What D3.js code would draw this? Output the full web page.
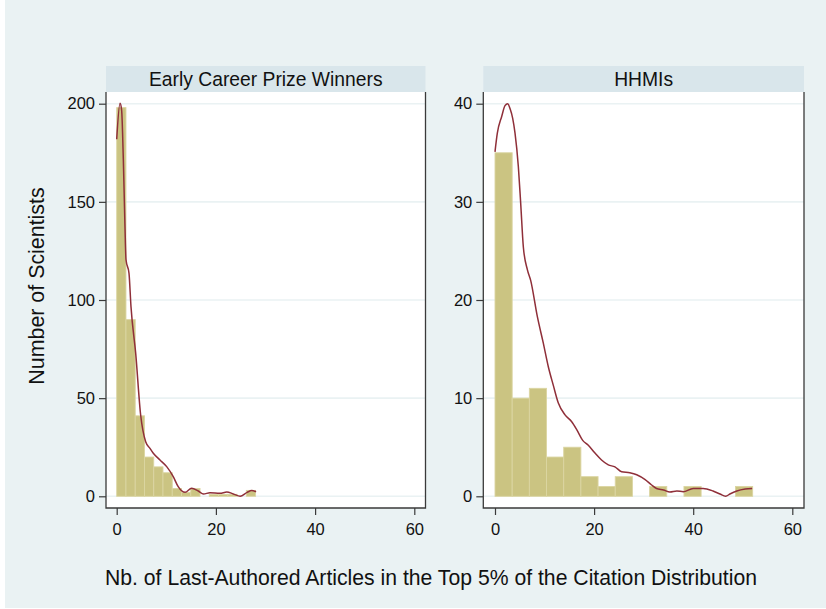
<!DOCTYPE html>
<html>
<head>
<meta charset="utf-8">
<script src="https://cdn.jsdelivr.net/npm/d3@7"></script>
<style>
  html, body { margin: 0; padding: 0; background: #ffffff; }
  svg { display: block; font-family: "Liberation Sans", Arial, sans-serif; }
</style>
</head>
<body>
<svg id="chart" width="826" height="609"></svg>
<script>
// ---------------- DATA ----------------
const panelTitles = ["Early Career Prize Winners", "HHMIs"];
const xTicks = [0, 20, 40, 60];
const yTicksEarly = [0, 50, 100, 150, 200];
const yTicksHHMI = [0, 10, 20, 30, 40];

// histogram: 15 bins each
const earlyRange = [0, 28];
const earlyCounts = [198, 90, 41, 20, 15, 12, 4, 2, 4, 0, 1, 1, 1, 0, 3];
const hhmiRange = [0, 52];
const hhmiCounts = [35, 10, 11, 4, 5, 2, 1, 2, 0, 1, 0, 1, 0, 0, 1];

// kernel density (scaled to frequency)
const earlyDensX = [0, 0.67, 0.99, 1.34, 1.67, 1.88, 2.48, 2.88, 3.83, 4.83, 5.84, 6.71, 7.38, 8.73, 10.08, 11.4, 12.4, 13.8, 15.1, 16.45, 17.5, 18.8, 20.8, 22.2, 23.5, 24.9, 26.3, 27.2, 28.1];
const earlyDensY = [181.9, 200.2, 196.8, 171.3, 137.3, 120.4, 113.6, 96.6, 72.8, 41.4, 27.8, 24.4, 21.9, 18.5, 15.1, 10, 4.9, 2, 4.1, 2.7, 1.2, 1.8, 1.5, 2.2, 1.2, 0, 2, 2.9, 2.3];
const hhmiDensX = [0, 0.47, 1.35, 2.02, 2.56, 3.03, 3.57, 4.04, 4.71, 5.18, 5.72, 6.53, 7.2, 8.55, 9.75, 10.76, 11.77, 12.78, 14.13, 15.48, 16.49, 17.7, 18.83, 20.18, 21.5, 22.87, 24.2, 25.56, 27.2, 28.6, 30.3, 31.6, 32.6, 34.0, 35.3, 36.7, 38.0, 40.0, 42.0, 44.0, 45.4, 46.56, 47.4, 48.8, 50.5, 51.9];
const hhmiDensY = [35.1, 37.0, 38.7, 39.8, 40.0, 39.5, 38.5, 37.0, 33.6, 29.9, 25.4, 23.1, 22.0, 18.3, 15.6, 13.2, 11.3, 9.5, 8.3, 7.6, 6.8, 5.7, 5.2, 4.4, 3.7, 3.2, 3.0, 2.5, 2.4, 2.2, 1.7, 1.15, 0.8, 0.65, 0.44, 0.54, 0.47, 0.8, 0.8, 0.54, 0.23, 0, 0.23, 0.54, 0.74, 0.8];

const xTitle = "Nb. of Last-Authored Articles in the Top 5% of the Citation Distribution";
const yTitle = "Number of Scientists";

// ---------------- STYLE / LAYOUT ----------------
const C = {
  bg: "#eaf2f3", header: "#d9e6eb", grid: "#eaf2f3",
  bar: "#cbc482", barEdge: "#dbd5a2", line: "#8f2f39", axis: "#3a3a3a", text: "#111"
};
const svg = d3.select("#chart");
svg.append("rect").attr("x", 5).attr("y", 0).attr("width", 821).attr("height", 608).attr("fill", C.bg);

const panels = [
  { title: panelTitles[0], range: earlyRange, counts: earlyCounts, dx: earlyDensX, dy: earlyDensY, yTicks: yTicksEarly, yMax: 200,
    frame: [106, 425.5], xr: [116.7, 414.3] },
  { title: panelTitles[1], range: hhmiRange, counts: hhmiCounts, dx: hhmiDensX, dy: hhmiDensY, yTicks: yTicksHHMI, yMax: 40,
    frame: [483.3, 804], xr: [495, 792.3] }
];
const headTop = 66, plotTop = 92, plotBottom = 508;
const yr = [496.3, 103.7];

panels.forEach(p => {
  const g = svg.append("g");
  const x = d3.scaleLinear().domain([0, 60]).range(p.xr);
  const y = d3.scaleLinear().domain([0, p.yMax]).range(yr);

  // plot area
  g.append("rect").attr("x", p.frame[0]).attr("y", plotTop)
    .attr("width", p.frame[1] - p.frame[0]).attr("height", plotBottom - plotTop).attr("fill", "#fff");
  // header
  g.append("rect").attr("x", p.frame[0]).attr("y", headTop)
    .attr("width", p.frame[1] - p.frame[0]).attr("height", plotTop - headTop).attr("fill", C.header);
  g.append("text").attr("x", (p.frame[0] + p.frame[1]) / 2).attr("y", 85.5)
    .attr("text-anchor", "middle").attr("font-size", 19.3).attr("fill", C.text).text(p.title);

  // gridlines
  g.selectAll(".grid").data(p.yTicks).join("line")
    .attr("x1", p.frame[0]).attr("x2", p.frame[1])
    .attr("y1", d => y(d)).attr("y2", d => y(d))
    .attr("stroke", C.grid).attr("stroke-width", 1.6);

  // histogram bars
  const n = p.counts.length;
  const w = (p.range[1] - p.range[0]) / n;
  const bins = p.counts.map((c, i) => ({ x0: p.range[0] + i * w, x1: p.range[0] + (i + 1) * w, c }));
  g.selectAll(".bar").data(bins.filter(b => b.c > 0)).join("rect")
    .attr("x", b => x(b.x0)).attr("width", b => x(b.x1) - x(b.x0))
    .attr("y", b => y(b.c)).attr("height", b => y(0) - y(b.c))
    .attr("fill", C.bar).attr("stroke", C.barEdge).attr("stroke-width", 0.9);

  // density line
  const pts = p.dx.map((v, i) => [v, p.dy[i]]);
  g.append("path").datum(pts)
    .attr("d", d3.line().x(d => x(d[0])).y(d => y(d[1])).curve(d3.curveMonotoneX))
    .attr("fill", "none").attr("stroke", C.line).attr("stroke-width", 1.5);

  // frame lines (left, bottom, right)
  g.append("path")
    .attr("d", `M${p.frame[0]},${plotTop}V${plotBottom}H${p.frame[1]}V${plotTop}`)
    .attr("fill", "none").attr("stroke", C.axis).attr("stroke-width", 1.3);

  // axes
  const xAxis = d3.axisBottom(x).tickValues(xTicks).tickSize(7).tickPadding(8).tickSizeOuter(0);
  const xg = g.append("g").attr("transform", `translate(0,${plotBottom})`).call(xAxis);
  const yAxis = d3.axisLeft(y).tickValues(p.yTicks).tickSize(7).tickPadding(4).tickSizeOuter(0);
  const yg = g.append("g").attr("transform", `translate(${p.frame[0]},0)`).call(yAxis);
  [xg, yg].forEach(a => {
    a.select(".domain").remove();
    a.selectAll(".tick line").attr("stroke", C.axis).attr("stroke-width", 1.2);
    a.selectAll(".tick text").attr("font-size", 16.5).attr("fill", C.text)
      .attr("font-family", "'Liberation Sans', Arial, sans-serif");
  });
});

// axis titles
svg.append("text").attr("x", 431).attr("y", 585).attr("text-anchor", "middle")
  .attr("font-size", 21.2).attr("fill", C.text).text(xTitle);
svg.append("text").attr("transform", "translate(43.5,286) rotate(-90)").attr("text-anchor", "middle")
  .attr("font-size", 21.4).attr("fill", C.text).text(yTitle);
</script>
</body>
</html>
